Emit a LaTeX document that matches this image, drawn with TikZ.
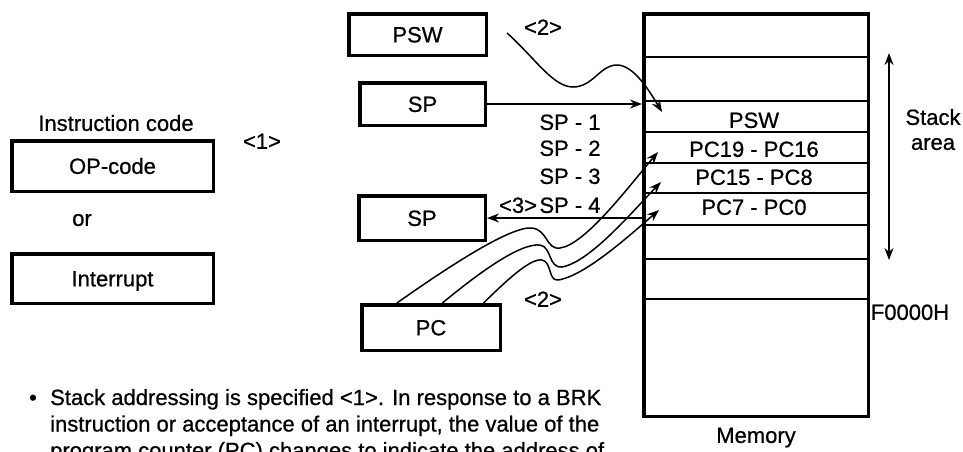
\documentclass[tikz,border=0pt]{standalone}
\usepackage{fontspec}
\setmainfont{Liberation Sans}[FakeBold=0.7]
\usetikzlibrary{positioning,arrows.meta,calc}
\tikzset{
  regbox/.style={draw,line width=3.5pt,inner sep=0pt,text height=15.7pt,text depth=0pt},
  txt/.style={inner sep=0pt,text height=15.7pt,text depth=0pt},
  memframe/.style={draw,line width=3.5pt,inner sep=0pt},
  cellline/.style={line width=1.8pt},
  arr/.style={-{Stealth[length=12pt,width=9pt]},line width=1.5pt},
  dblarr/.style={{Stealth[length=12pt,width=9pt]}-{Stealth[length=12pt,width=9pt]},line width=1.6pt},
}

\begin{document}
\begin{tikzpicture}[x=1pt,y=-1pt,font=\fontsize{22}{25}\selectfont]
\useasboundingbox (0,0) rectangle (963,451);

% instruction side
\node[txt] (icode) at (116,123) {Instruction code};
\node[regbox,minimum width=201.5pt,minimum height=50.5pt] (opc) at (112.5,166) {OP-code};
\node[txt] (or) at (82,218) {or};
\node[regbox,minimum width=201.5pt,minimum height=49.5pt] (intr) at (112.5,278.5) {Interrupt};
\node[txt] (one) at (262,141) {\textless1\textgreater};

% registers
\node[regbox,minimum width=137.5pt,minimum height=41.5pt] (psw) at (417.5,34.5) {PSW};
\node[regbox,minimum width=125.5pt,minimum height=42.5pt] (spTop) at (422.5,104) {SP};
\node[regbox,minimum width=126.5pt,minimum height=44.5pt] (spBot) at (422,218) {SP};
\node[regbox,minimum width=138.5pt,minimum height=45.5pt] (pc) at (431,327.5) {PC};

% memory
\node[memframe,minimum width=224.5pt,minimum height=402.5pt] (mem) at (756,215) {};
\foreach \y in {57,101,132,163,193,225,259,299}
  \draw[cellline] (mem.west |- 0,\y) -- (mem.east |- 0,\y);
\node[txt] (cpsw) at (754,120) {PSW};
\node[txt] (cpc19) at (754,149) {PC19 - PC16};
\node[txt] (cpc15) at (754,177) {PC15 - PC8};
\node[txt] (cpc7) at (754,207) {PC7 - PC0};
\node[txt,below=9pt of mem] (memlbl) {Memory};
\node[txt] (f0000) at (910,312) {F0000H};

% stack area
\coordinate (stTop) at (889,53);
\coordinate (stBot) at (889,260);
\draw[dblarr] (stTop) -- (stBot);
\node[inner sep=0pt,align=center] (stk) at (933,129.5) {Stack\\area};

% SP offsets
\node[txt] (sp1) at (570,122) {SP - 1};
\node[txt] (sp2) at (570,148) {SP - 2};
\node[txt] (sp3) at (570,176) {SP - 3};
\node[txt] (sp4) at (570,205) {SP - 4};
\node[txt,left=2pt of sp4] (three) {\textless3\textgreater};
\node[txt] (twoA) at (543,27) {\textless2\textgreater};
\node[txt] (twoB) at (543,299) {\textless2\textgreater};

\draw[arr] (spTop.east) -- (spTop.east -| mem.west);
\draw[arr] (spBot.east -| mem.west) -- (spBot.east);

% saving PSW
\coordinate (pswOut) at (507,33);
\coordinate (pswIn) at (662,112);
\draw[arr] (pswOut) .. controls (535,58) and (553,87) .. (573,87)
  .. controls (593,87) and (600,65) .. (617,65)
  .. controls (634,65) and (650,92) .. (pswIn);

% saving PC
\coordinate (in19) at (658,152);
\coordinate (in15) at (661,182);
\coordinate (in7) at (659,210);
\draw[arr] ($(pc.north west)!0.26!(pc.north east)$) .. controls (455,262) and (512,226) .. (532,228)
  .. controls (548,230) and (546,250) .. (560,248)
  .. controls (585,245) and (630,185) .. (in19);
\draw[arr] ($(pc.north west)!0.58!(pc.north east)$) .. controls (480,272) and (520,243) .. (540,245)
  .. controls (552,247) and (548,268) .. (562,267)
  .. controls (590,262) and (632,212) .. (in15);
\draw[arr] ($(pc.north west)!0.87!(pc.north east)$) .. controls (505,282) and (530,258) .. (542,260)
  .. controls (552,262) and (548,281) .. (558,280)
  .. controls (585,276) and (630,235) .. (in7);

% note
\node[inner sep=0pt,anchor=base] (dot) at (33,405) {\textbullet};
\node[inner sep=0pt,anchor=base west] (ln1) at (50,405) {Stack addressing is specified \textless1\textgreater. In response to a BRK};
\node[inner sep=0pt,anchor=base west] (ln2) at (50,431.5) {instruction or acceptance of an interrupt, the value of the};
\node[inner sep=0pt,anchor=base west] (ln3) at (50,458) {program counter (PC) changes to indicate the address of};
\end{tikzpicture}
\end{document}
